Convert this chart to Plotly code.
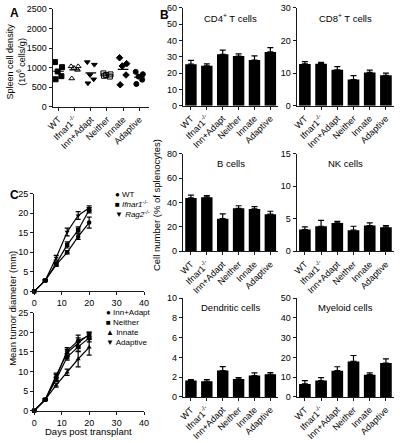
import plotly.graph_objects as go

W, H = 400, 443
FONT = "Liberation Sans, Arial, sans-serif"

# ---------------- data ----------------
groups = ["WT", "Ifnar1<sup>-/-</sup>", "Inn+Adapt", "Neither", "Innate", "Adaptive"]

# Panel A: spleen cell density (10^6 cells/g), individual mice
spleen_wt = [1140, 1010, 900, 780, 700]
spleen_ifnar = [1030, 1030, 990, 940, 720]
spleen_innadapt = [1140, 1075, 810, 700, 600]
spleen_neither = [850, 825, 810, 770, 790]
spleen_innate = [1250, 1100, 1040, 810, 560]
spleen_adaptive = [890, 830, 770, 690, 580]
spleen_jitter = [-0.22, 0.22, -0.05, 0.18, -0.18]

# Panel B: cell number (% of splenocytes), mean and SEM
cd4_mean = [25.5, 24.5, 31.5, 30.5, 28.0, 33.0]
cd4_sem = [2.3, 1.2, 2.6, 1.3, 2.6, 2.6]
cd8_mean = [12.8, 12.9, 11.0, 8.0, 10.2, 9.3]
cd8_sem = [0.7, 0.4, 1.0, 1.2, 0.7, 0.7]
b_mean = [43.7, 44.3, 26.7, 35.2, 34.7, 30.4]
b_sem = [2.3, 1.3, 4.0, 2.1, 1.8, 2.4]
nk_mean = [3.35, 3.85, 4.35, 3.25, 3.95, 3.7]
nk_sem = [0.4, 0.9, 0.25, 0.6, 0.4, 0.25]
dc_mean = [1.67, 1.6, 2.67, 1.83, 2.17, 2.3]
dc_sem = [0.1, 0.17, 0.4, 0.14, 0.26, 0.17]
my_mean = [6.6, 8.3, 13.3, 18.0, 11.3, 17.2]
my_sem = [1.7, 1.5, 2.0, 3.0, 0.9, 2.1]

# Panel C: mean tumor diameter (mm)
days = [0, 4, 8, 12, 16, 20]
c_wt = [0, 2.8, 6.8, 10.0, 14.0, 17.6]
c_wt_err = [0, 0.2, 0.4, 0.4, 0.7, 1.4]
c_ifnar = [0, 2.8, 7.1, 11.9, 15.7, 20.8]
c_ifnar_err = [0, 0.2, 0.4, 0.8, 0.8, 0.7]
c_rag2 = [0, 2.8, 8.6, 15.2, 19.4, 21.3]
c_rag2_err = [0, 0.2, 0.6, 1.0, 1.0, 0.6]
c_innadapt = [0, 2.8, 8.5, 15.3, 17.9, 19.2]
c_innadapt_err = [0, 0.2, 0.8, 0.8, 1.4, 0.8]
c_neither = [0, 2.8, 8.0, 13.7, 16.3, 18.6]
c_neither_err = [0, 0.2, 0.6, 0.8, 1.2, 1.0]
c_innate = [0, 2.8, 6.5, 9.8, 13.2, 16.2]
c_innate_err = [0, 0.2, 0.5, 0.8, 2.0, 2.0]
c_adaptive = [0, 2.8, 9.0, 14.8, 17.3, 19.5]
c_adaptive_err = [0, 0.2, 0.6, 0.9, 1.3, 0.6]

# ---------------- helpers ----------------
def xd(a, b):
    return [a / W, b / W]

def yd(top, bottom):
    return [1 - bottom / H, 1 - top / H]

LINEC = "#1a1a1a"
tickfont = dict(family=FONT, size=9, color="black")

def axis_style(**kw):
    d = dict(showline=True, linecolor=LINEC, linewidth=1.2, ticks="outside",
             ticklen=3, tickwidth=1.2, tickcolor=LINEC, showgrid=False,
             zeroline=False, tickfont=tickfont, fixedrange=True)
    d.update(kw)
    return d

fig = go.Figure()
layout = {}
annotations = []

# ---------------- Panel A ----------------
A_series = [
    (spleen_wt, "square", "black"),
    (spleen_ifnar, "triangle-up-open", "black"),
    (spleen_innadapt, "triangle-down", "black"),
    (spleen_neither, "square-open", "black"),
    (spleen_innate, "diamond", "black"),
    (spleen_adaptive, "circle", "black"),
]
for i, (vals, sym, col) in enumerate(A_series):
    xs = [i + j for j in spleen_jitter[:len(vals)]]
    fig.add_trace(go.Scatter(x=xs, y=vals, mode="markers", xaxis="x", yaxis="y",
                             marker=dict(symbol=sym, size=5, color=col,
                                         line=dict(color="black", width=1)),
                             showlegend=False, hoverinfo="skip"))
    m = sum(vals) / len(vals)
    fig.add_trace(go.Scatter(x=[i - 0.33, i + 0.33], y=[m, m], mode="lines",
                             xaxis="x", yaxis="y", line=dict(color="black", width=1.2),
                             showlegend=False, hoverinfo="skip"))

layout["xaxis"] = axis_style(domain=xd(48, 147), anchor="y", range=[-0.36, 5.6],
                             tickvals=list(range(6)), ticktext=groups, tickangle=-45)
layout["yaxis"] = axis_style(domain=yd(4, 104), anchor="x", range=[0, 2500],
                             tickvals=[0, 500, 1000, 1500, 2000, 2500])

# ---------------- Panel B ----------------
B_panels = [
    ("CD4<sup>+</sup> T cells", cd4_mean, cd4_sem, 60, 10, (182, 280), (3, 103)),
    ("CD8<sup>+</sup> T cells", cd8_mean, cd8_sem, 30, 10, (299, 399), (3, 103)),
    ("B cells", b_mean, b_sem, 80, 20, (182, 280), (152, 252)),
    ("NK cells", nk_mean, nk_sem, 15, 5, (299, 399), (152, 252)),
    ("Dendritic cells", dc_mean, dc_sem, 10, 2, (182, 280), (300, 401)),
    ("Myeloid cells", my_mean, my_sem, 50, 10, (299, 399), (300, 401)),
]
for k, (title, mean, sem, ymax, dt, (xa, xb), (yt, yb)) in enumerate(B_panels):
    n = k + 2
    xn, yn = f"x{n}", f"y{n}"
    fig.add_trace(go.Bar(x=groups, y=mean, xaxis=xn, yaxis=yn,
                         marker=dict(color="black", line=dict(width=0)),
                         error_y=dict(type="data", array=sem, arrayminus=[0] * len(sem),
                                      symmetric=False, color="black", thickness=1.2, width=3),
                         showlegend=False, hoverinfo="skip"))
    layout[f"xaxis{n}"] = axis_style(domain=xd(xa, xb), anchor=yn, type="category",
                                     range=[-0.5, 5.5], tickangle=-45)
    layout[f"yaxis{n}"] = axis_style(domain=yd(yt, yb), anchor=xn, range=[0, ymax],
                                     tickvals=list(range(0, ymax + 1, dt)))
    annotations.append(dict(x=(xa + xb) / 2 / W, y=1 - (yt + 2) / H, xref="paper", yref="paper",
                            text=title, showarrow=False, xanchor="center", yanchor="top",
                            font=dict(family=FONT, size=9.5, color="black")))

layout["barmode"] = "group"
layout["bargap"] = 0.28

# ---------------- Panel C ----------------
C_top = [
    (c_wt, c_wt_err, "circle"),
    (c_ifnar, c_ifnar_err, "square"),
    (c_rag2, c_rag2_err, "triangle-down"),
]
C_bot = [
    (c_innadapt, c_innadapt_err, "circle"),
    (c_neither, c_neither_err, "square"),
    (c_innate, c_innate_err, "triangle-up"),
    (c_adaptive, c_adaptive_err, "triangle-down"),
]
for series, n in ((C_top, 8), (C_bot, 9)):
    for vals, err, sym in series:
        fig.add_trace(go.Scatter(x=days, y=vals, mode="lines+markers",
                                 xaxis=f"x{n}", yaxis=f"y{n}",
                                 line=dict(color="black", width=1.2),
                                 marker=dict(symbol=sym, size=4.5, color="black"),
                                 error_y=dict(type="data", array=err, color="black",
                                              thickness=1.2, width=2.5),
                                 showlegend=False, hoverinfo="skip", cliponaxis=False))

layout["xaxis8"] = axis_style(domain=xd(29, 142), anchor="y8", range=[0, 40],
                              tickvals=[0, 10, 20, 30, 40])
layout["yaxis8"] = axis_style(domain=yd(193, 293), anchor="x8", range=[0, 25],
                              tickvals=[0, 5, 10, 15, 20, 25])
layout["xaxis9"] = axis_style(domain=xd(29, 142), anchor="y9", range=[0, 40],
                              tickvals=[0, 10, 20, 30, 40])
layout["yaxis9"] = axis_style(domain=yd(315, 415), anchor="x9", range=[0, 25],
                              tickvals=[0, 5, 10, 15, 20, 25])

# legends (as text)
leg_font = dict(family=FONT, size=8, color="black")
top_leg = ["● WT", "■ <i>Ifnar1</i><sup>-/-</sup>", "▼ <i>Rag2</i><sup>-/-</sup>"]
for i, t in enumerate(top_leg):
    annotations.append(dict(x=110 / W, y=1 - (194 + i * 10) / H, xref="paper", yref="paper",
                            text=t, showarrow=False, xanchor="left", yanchor="middle",
                            font=leg_font))
bot_leg = ["● Inn+Adapt", "■ Neither", "▲ Innate", "▼ Adaptive"]
for i, t in enumerate(bot_leg):
    annotations.append(dict(x=101 / W, y=1 - (315 + i * 10) / H, xref="paper", yref="paper",
                            text=t, showarrow=False, xanchor="left", yanchor="middle",
                            font=leg_font))

# axis titles
annotations += [
    dict(x=10 / W, y=1 - 58 / H, xref="paper", yref="paper", textangle=-90,
         xanchor="center", yanchor="middle",
         text="Spleen cell density<br>(10<sup>6</sup> cells/g)", showarrow=False,
         font=dict(family=FONT, size=9, color="black")),
    dict(x=155 / W, y=1 - 205 / H, xref="paper", yref="paper", textangle=-90,
         xanchor="center", yanchor="middle",
         text="Cell number (% of splenocytes)", showarrow=False,
         font=dict(family=FONT, size=9.5, color="black")),
    dict(x=6 / W, y=1 - 310 / H, xref="paper", yref="paper", textangle=-90,
         xanchor="center", yanchor="middle",
         text="Mean tumor diameter (mm)", showarrow=False,
         font=dict(family=FONT, size=9.5, color="black")),
    dict(x=85 / W, y=1 - 436 / H, xref="paper", yref="paper",
         xanchor="center", yanchor="middle",
         text="Days post transplant", showarrow=False,
         font=dict(family=FONT, size=9.5, color="black")),
]
# panel letters
for letter, px, py in (("A", 2, 8), ("B", 156, 10), ("C", 2, 194)):
    annotations.append(dict(x=px / W, y=1 - py / H, xref="paper", yref="paper",
                            text=f"<b>{letter}</b>", showarrow=False, xanchor="left",
                            yanchor="middle", font=dict(family=FONT, size=12, color="black")))

layout["annotations"] = annotations
fig.update_layout(**layout)
fig.update_layout(width=W, height=H, margin=dict(l=0, r=0, t=0, b=0),
                  paper_bgcolor="white", plot_bgcolor="white",
                  font=dict(family=FONT, color="black"), showlegend=False)

fig.write_html("out.html", config={"displayModeBar": False},
               post_script="document.body.style.margin='0';document.body.style.padding='0';")
